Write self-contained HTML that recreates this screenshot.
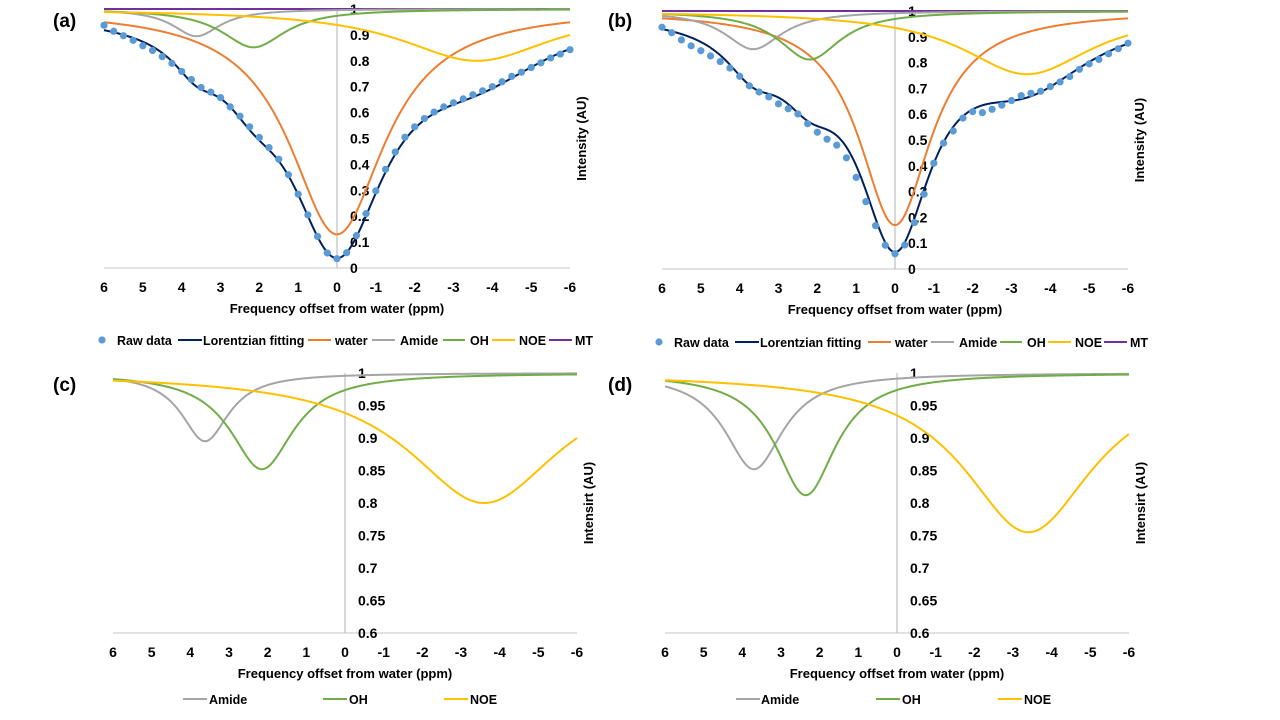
<!DOCTYPE html>
<html><head><meta charset="utf-8"><title>CEST Z-spectra Lorentzian fitting</title>
<style>
html,body{margin:0;padding:0;background:#fff;}
svg{display:block;font-family:"Liberation Sans",sans-serif;font-weight:bold;}
</style></head>
<body>
<svg id="fig" width="1280" height="720" viewBox="0 0 1280 720" xmlns="http://www.w3.org/2000/svg"></svg>
<script>
// ---- data ----
const xTicks = [6,5,4,3,2,1,0,-1,-2,-3,-4,-5,-6];
const yTicksTop = ["0","0.1","0.2","0.3","0.4","0.5","0.6","0.7","0.8","0.9","1"];
const yTickValsTop = [0,0.1,0.2,0.3,0.4,0.5,0.6,0.7,0.8,0.9,1];
const yTicksBottom = ["0.6","0.65","0.7","0.75","0.8","0.85","0.9","0.95","1"];
const yTickValsBottom = [0.6,0.65,0.7,0.75,0.8,0.85,0.9,0.95,1];
const poolNames = ["water","Amide","OH","NOE","MT"];
// Lorentzian pool parameters (amplitude, center ppm, FWHM ppm)
const ampA = [0.87,0.105,0.148,0.20,0.0];
const cenA = [0,3.62,2.15,-3.6,0];
const fwhmA = [3.0,1.5,2.0,4.8,1];
const ampB = [0.83,0.148,0.188,0.245,0.0];
const cenB = [0,3.65,2.2,-3.4,0];
const fwhmB = [2.26,1.8,1.95,4.1,1];
const rawX = [6,5.75,5.5,5.25,5,4.75,4.5,4.25,4,3.75,3.5,3.25,3,2.75,2.5,2.25,2,1.75,1.5,1.25,1,0.75,0.5,0.25,0,-0.25,-0.5,-0.75,-1,-1.25,-1.5,-1.75,-2,-2.25,-2.5,-2.75,-3,-3.25,-3.5,-3.75,-4,-4.25,-4.5,-4.75,-5,-5.25,-5.5,-5.75,-6];
const rawA = [0.937,0.914,0.897,0.879,0.858,0.840,0.816,0.790,0.759,0.728,0.697,0.679,0.658,0.622,0.586,0.545,0.504,0.465,0.420,0.360,0.285,0.205,0.122,0.058,0.036,0.059,0.125,0.21,0.298,0.381,0.448,0.505,0.545,0.577,0.602,0.622,0.638,0.653,0.669,0.684,0.700,0.719,0.740,0.756,0.774,0.792,0.811,0.826,0.843];
const rawB = [0.937,0.916,0.888,0.865,0.846,0.826,0.804,0.779,0.747,0.710,0.686,0.667,0.640,0.621,0.601,0.563,0.530,0.503,0.480,0.431,0.355,0.261,0.168,0.092,0.059,0.093,0.18,0.29,0.410,0.488,0.535,0.585,0.610,0.606,0.619,0.635,0.653,0.672,0.681,0.689,0.707,0.725,0.746,0.774,0.795,0.812,0.834,0.854,0.875];

const colors = {raw:"#5b9bd5",fit:"#002060",water:"#ed7d31",Amide:"#a5a5a5",OH:"#70ad47",NOE:"#ffc000",MT:"#7030a0"};
const NS="http://www.w3.org/2000/svg";
const svg=document.getElementById('fig');
function mk(tag,attrs,parent){const e=document.createElementNS(NS,tag);for(const k in attrs)e.setAttribute(k,attrs[k]);(parent||svg).appendChild(e);return e;}
function lor(x,a,c,w){const h=w/2;return a/(1+((x-c)/h)*((x-c)/h));}

function panel(cfg){
  const g=mk('g',{});
  
  
  const sx=v=>cfg.x6+(6-v)/12*(cfg.xm6-cfg.x6);
  const sy=v=>cfg.yBot+(v-cfg.ymin)/(cfg.ymax-cfg.ymin)*(cfg.yTop-cfg.yBot);
  const xa=mk('line',{x1:cfg.x6,x2:cfg.xm6,y1:cfg.yBot,y2:cfg.yBot,stroke:"#d0d0d0","stroke-width":1.2},g);
  
  
  const ya=mk('line',{x1:sx(0),x2:sx(0),y1:cfg.yTop,y2:cfg.yBot,stroke:"#bfbfbf","stroke-width":1.2},g);
  
  
  xTicks.forEach(t=>{
    const e=mk('text',{x:sx(t),y:cfg.yBot+24,"text-anchor":"middle","font-size":14,fill:"#000"},g);
    e.textContent=t;
    
    
  });
  cfg.yTickVals.forEach((v,i)=>{
    const e=mk('text',{x:sx(0)+13,y:sy(v)+5,"font-size":14,fill:"#000"},g);
    e.textContent=cfg.yTicks[i];
    
    
  });
  const xt=mk('text',{x:sx(0),y:cfg.yBot+45,"text-anchor":"middle","font-size":13,fill:"#000"},g);
  xt.textContent="Frequency offset from water (ppm)";
  
  
  const ytx=cfg.xm6+16, yty=(cfg.yTop+cfg.yBot)/2;
  const yt=mk('text',{x:ytx,y:yty,"text-anchor":"middle","font-size":13,fill:"#000",transform:`rotate(-90 ${ytx} ${yty})`},g);
  yt.textContent=cfg.ytitle;
  
  
  const pl=mk('text',{x:cfg.lx,y:cfg.ly,"font-size":19,fill:"#000"},g);
  pl.textContent=cfg.label;
  
  
  const xs=[];for(let i=0;i<=480;i++)xs.push(6-i*0.025);
  cfg.pools.forEach(pi=>{
    const pts=xs.map(x=>`${sx(x).toFixed(2)},${sy(1-lor(x,cfg.amp[pi],cfg.cen[pi],cfg.fwhm[pi])).toFixed(2)}`).join(' ');
    const p=mk('polyline',{points:pts,fill:"none",stroke:colors[poolNames[pi]],"stroke-width":2},g);
    
    
  });
  if(cfg.raw){
    const pts=xs.map(x=>{let s=0;for(let k=0;k<5;k++)s+=lor(x,cfg.amp[k],cfg.cen[k],cfg.fwhm[k]);return `${sx(x).toFixed(2)},${sy(1-s).toFixed(2)}`;}).join(' ');
    const p=mk('polyline',{points:pts,fill:"none",stroke:colors.fit,"stroke-width":2},g);
    
    
    cfg.raw.forEach((v,i)=>{
      const c=mk('circle',{cx:sx(rawX[i]),cy:sy(v),r:3.6,fill:colors.raw},g);
      
      
    });
  }
  cfg.legend.forEach(it=>{
    if(it.dot){
      const c=mk('circle',{cx:it.x1+4,cy:cfg.legY,r:3.6,fill:colors.raw},g);
      
      
    } else {
      const l=mk('line',{x1:it.x1,x2:it.x2,y1:cfg.legY,y2:cfg.legY,stroke:it.c,"stroke-width":2},g);
      
      
    }
    const t=mk('text',{x:it.tx,y:cfg.legY+5,"font-size":12.5,fill:"#000"},g);
    t.textContent=it.t;
    
    
  });
}
const legTop=(o)=>[
  {dot:true,x1:98+o.d,tx:117+o.d,t:"Raw data"},
  {x1:178+o.d,x2:202+o.d,c:colors.fit,tx:203+o.d,t:"Lorentzian fitting"},
  {x1:o.w,x2:o.w+23,c:colors.water,tx:o.w+27,t:"water"},
  {x1:o.a,x2:o.a+23,c:colors.Amide,tx:o.a+28,t:"Amide"},
  {x1:o.o,x2:o.o+22,c:colors.OH,tx:o.o+27,t:"OH"},
  {x1:o.n,x2:o.n+23,c:colors.NOE,tx:o.n+27,t:"NOE"},
  {x1:o.m,x2:o.m+23,c:colors.MT,tx:o.m+26,t:"MT"}];
panel({name:'panel-a',label:'(a)',lx:53,ly:27,x6:104,xm6:570,yTop:9,yBot:268,ymin:0,ymax:1,yTicks:yTicksTop,yTickVals:yTickValsTop,ytitle:"Intensity (AU)",amp:ampA,cen:cenA,fwhm:fwhmA,raw:rawA,pools:[4,0,1,2,3],legY:340,
  legend:legTop({d:0,w:308,a:372,o:443,n:492,m:549})});
panel({name:'panel-b',label:'(b)',lx:608,ly:27,x6:662,xm6:1128,yTop:11,yBot:269,ymin:0,ymax:1,yTicks:yTicksTop,yTickVals:yTickValsTop,ytitle:"Intensity (AU)",amp:ampB,cen:cenB,fwhm:fwhmB,raw:rawB,pools:[4,0,1,2,3],legY:342,
  legend:legTop({d:557,w:868,a:931,o:1000,n:1048,m:1104})});
panel({name:'panel-c',label:'(c)',lx:53,ly:391,x6:113,xm6:577,yTop:373,yBot:633,ymin:0.6,ymax:1,yTicks:yTicksBottom,yTickVals:yTickValsBottom,ytitle:"Intensirt (AU)",amp:ampA,cen:cenA,fwhm:fwhmA,raw:null,pools:[1,2,3],legY:699,
  legend:[{x1:183,x2:207,c:colors.Amide,tx:209,t:"Amide"},{x1:323,x2:347,c:colors.OH,tx:349,t:"OH"},{x1:444,x2:468,c:colors.NOE,tx:470,t:"NOE"}]});
panel({name:'panel-d',label:'(d)',lx:608,ly:391,x6:665,xm6:1129,yTop:373,yBot:633,ymin:0.6,ymax:1,yTicks:yTicksBottom,yTickVals:yTickValsBottom,ytitle:"Intensirt (AU)",amp:ampB,cen:[0,3.7,2.36,-3.4,0],fwhm:[2.26,1.85,1.9,4.1,1],raw:null,pools:[1,2,3],legY:699,
  legend:[{x1:736,x2:760,c:colors.Amide,tx:761,t:"Amide"},{x1:876,x2:900,c:colors.OH,tx:902,t:"OH"},{x1:998,x2:1022,c:colors.NOE,tx:1024,t:"NOE"}]});
</script>
</body></html>
